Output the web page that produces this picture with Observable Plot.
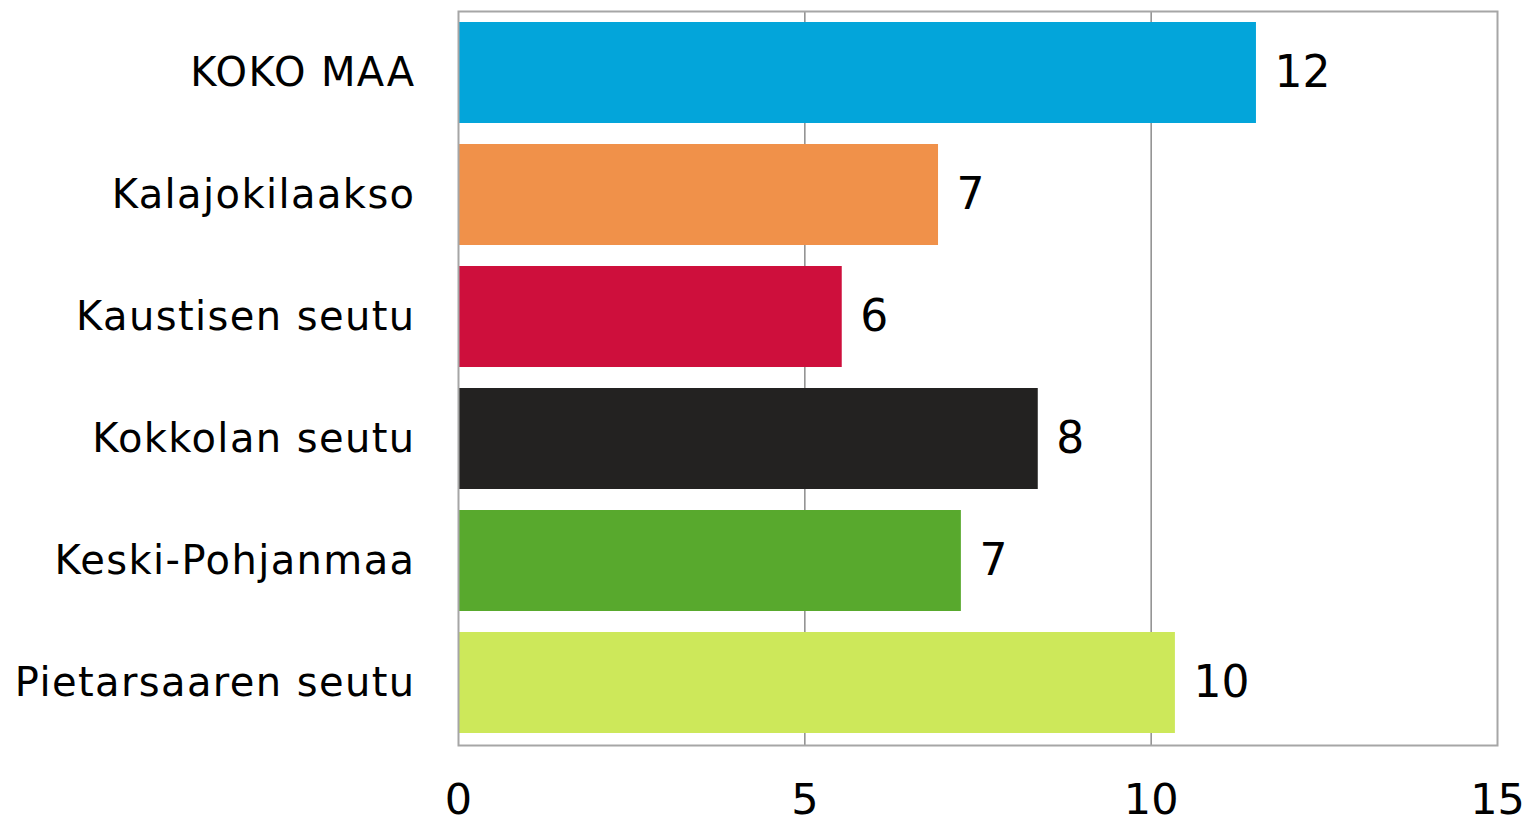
<!DOCTYPE html>
<html>
<head>
<meta charset="utf-8">
<script src="https://cdn.jsdelivr.net/npm/d3@7"></script>
<script src="https://cdn.jsdelivr.net/npm/@observablehq/plot@0.6"></script>
<style>
  html, body { margin: 0; padding: 0; background: #ffffff; }
  #chart { width: 1525px; height: 824px; }
  #chart g[aria-label="y-axis tick label"] text { letter-spacing: 1.4px; }
</style>
</head>
<body>
<div id="chart"></div>
<script>
const categories = ["KOKO MAA", "Kalajokilaakso", "Kaustisen seutu", "Kokkolan seutu", "Keski-Pohjanmaa", "Pietarsaaren seutu"];
const values = [11.52, 6.93, 5.54, 8.37, 7.26, 10.35];
const valueLabels = [12, 7, 6, 8, 7, 10];
const barColors = ["#03A5DA", "#F0914A", "#CE0F3C", "#232221", "#58A92D", "#CDE85A"];
const xTicks = [0, 5, 10, 15];
const gridTicks = [5, 10];

const data = categories.map((c, i) => ({category: c, value: values[i], label: valueLabels[i], color: barColors[i]}));

const font = "'DejaVu Sans', sans-serif";

const chart = Plot.plot({
  width: 1525,
  height: 824,
  marginLeft: 458,
  marginRight: 28,
  marginTop: 11,
  marginBottom: 79,
  x: {domain: [0, 15]},
  y: {domain: categories, paddingInner: 0.17, paddingOuter: 0.08},
  color: {type: "identity"},
  style: {fontFamily: font, background: "#ffffff", color: "#000000"},
  marks: [
    Plot.ruleX(gridTicks, {x: d => d, stroke: "#8c8c8c", strokeWidth: 1.5}),
    Plot.barX(data, {x: "value", y: "category", fill: d => d.color}),
    Plot.frame({stroke: "#a6a6a6", strokeWidth: 2}),
    Plot.text(data, {x: "value", y: "category", text: d => String(d.label), dx: 18, textAnchor: "start", fontSize: 44, fill: "#000000"}),
    Plot.axisY({tickSize: 0, tickPadding: 43, fontSize: 40, label: null, fill: "#000000"}),
    Plot.axisX({ticks: xTicks, tickSize: 0, tickPadding: 38, fontSize: 43, label: null, tickFormat: d => String(d), fill: "#000000"})
  ]
});

document.getElementById("chart").appendChild(chart);
</script>
</body>
</html>
